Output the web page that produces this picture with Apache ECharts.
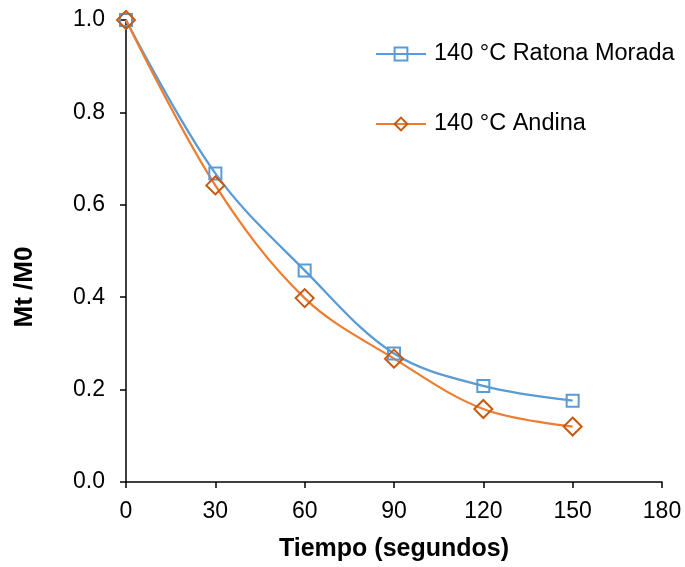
<!DOCTYPE html>
<html>
<head>
<meta charset="utf-8">
<script src="https://cdn.jsdelivr.net/npm/echarts@6/dist/echarts.min.js"></script>
<style>
  html, body { margin: 0; padding: 0; background: #fff; overflow: hidden; }
  #chart { width: 685px; height: 567px; }
</style>
</head>
<body>
<div id="chart"></div>
<script>
// Drying curve: moisture ratio vs time at 140 °C
const tiempo = [0, 30, 60, 90, 120, 150];
const ratonaMorada = [1.0, 0.668, 0.458, 0.278, 0.208, 0.176];
const andina = [1.0, 0.642, 0.398, 0.267, 0.158, 0.120];
const seriesNames = ['140 °C Ratona Morada', '140 °C Andina'];

const font = 'Arial, "Liberation Sans", sans-serif';
const pairs = (xs, ys) => xs.map((x, i) => [x, ys[i]]);

const chart = echarts.init(document.getElementById('chart'), null, { renderer: 'canvas', width: 685, height: 567 });
chart.setOption({
  animation: false,
  backgroundColor: '#ffffff',
  grid: { left: 126, width: 536, top: 20, height: 473, containLabel: false },
  legend: {
    orient: 'vertical',
    left: 375,
    top: 42,
    padding: 0,
    itemWidth: 50,
    itemHeight: 16,
    itemGap: 46,
    textStyle: { fontFamily: font, fontSize: 23.5, color: '#000', padding: [0, 0, 0, 3] },
    data: seriesNames
  },
  xAxis: {
    type: 'value',
    min: 0, max: 180, interval: 30,
    name: 'Tiempo (segundos)',
    nameLocation: 'middle',
    nameGap: 55,
    nameTextStyle: { fontFamily: font, fontSize: 25, fontWeight: 'bold', color: '#000' },
    axisLine: { show: true, onZero: false, lineStyle: { color: '#000', width: 1.5 } },
    axisTick: { show: true, inside: false, length: 6, lineStyle: { color: '#000', width: 1.5 } },
    axisLabel: { fontFamily: font, fontSize: 23, color: '#000', margin: 18 },
    splitLine: { show: false }
  },
  yAxis: {
    type: 'value',
    min: 0, max: 1, interval: 0.2,
    name: 'Mt /M0',
    nameLocation: 'middle',
    nameRotate: 90,
    nameGap: 88,
    nameTextStyle: { fontFamily: font, fontSize: 26, fontWeight: 'bold', color: '#000', padding: [0, 72, 0, 0] },
    axisLine: { show: true, onZero: false, lineStyle: { color: '#000', width: 1.5 } },
    axisTick: { show: true, inside: false, length: 6, lineStyle: { color: '#000', width: 1.5 } },
    axisLabel: { fontFamily: font, fontSize: 23, color: '#000', margin: 21,
                 formatter: v => v.toFixed(1) },
    splitLine: { show: false }
  },
  series: [
    {
      name: seriesNames[0],
      type: 'line',
      smooth: 0.35,
      data: pairs(tiempo, ratonaMorada),
      symbol: 'rect',
      symbolSize: 12,
      lineStyle: { color: '#5B9BD5', width: 2.25 },
      itemStyle: { color: 'rgba(255,255,255,0)', borderColor: '#5B9BD5', borderWidth: 2 }
    },
    {
      name: seriesNames[1],
      type: 'line',
      smooth: 0.35,
      data: pairs(tiempo, andina),
      symbol: 'diamond',
      symbolSize: 18,
      lineStyle: { color: '#ED7D31', width: 2.25 },
      itemStyle: { color: 'rgba(255,255,255,0)', borderColor: '#C55A11', borderWidth: 2 }
    }
  ]
});
</script>
</body>
</html>
